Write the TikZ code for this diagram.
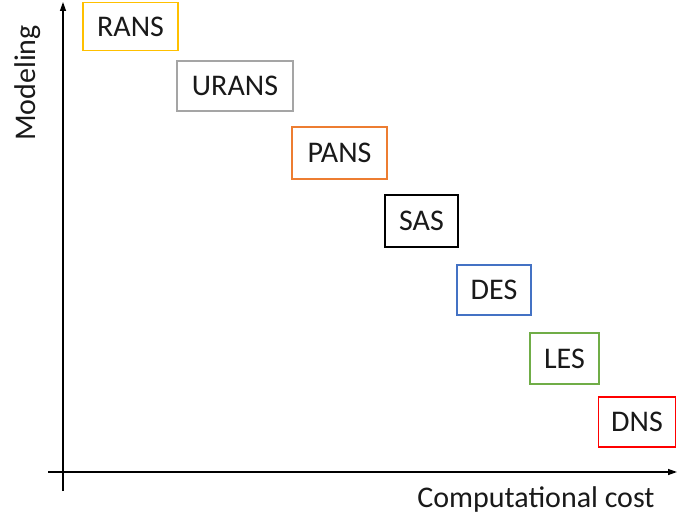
\documentclass[tikz,border=0pt]{standalone}
\usepackage{fontspec}
\setmainfont{Carlito}
\usetikzlibrary{arrows.meta}
\definecolor{cRANS}{HTML}{FFC000}
\definecolor{cURANS}{HTML}{A5A5A5}
\definecolor{cPANS}{HTML}{ED7D31}
\definecolor{cDES}{HTML}{4472C4}
\definecolor{cLES}{HTML}{70AD47}
\definecolor{cDNS}{HTML}{FF0000}
\begin{document}
\begin{tikzpicture}[x=1pt,y=-1pt,
  mbox/.style={draw, line width=1.8pt, inner sep=0pt, font=\fontsize{30}{34}\selectfont, text=black!90},
  axis/.style={line width=1.3pt, -{Triangle[length=9pt,width=6pt]}},
  lbl/.style={font=\fontsize{30}{34}\selectfont, text=black!90}]
\useasboundingbox (0,0) rectangle (677,516);
\node[mbox, draw=cRANS, minimum width=95pt, minimum height=48pt] (rans) at (130.5,26.5) {RANS};
\node[mbox, draw=cURANS, minimum width=116pt, minimum height=50pt] (urans) at (235,86) {URANS};
\node[mbox, draw=cPANS, minimum width=95pt, minimum height=52pt] (pans) at (339.5,153) {PANS};
\node[mbox, draw=black, minimum width=73pt, minimum height=52pt] (sas) at (421.5,221) {SAS};
\node[mbox, draw=cDES, minimum width=74pt, minimum height=50pt] (des) at (494,290) {DES};
\node[mbox, draw=cLES, minimum width=69pt, minimum height=51pt] (les) at (564.5,358.5) {LES};
\node[mbox, draw=cDNS, minimum width=77pt, minimum height=50pt] (dns) at (637,422) {DNS};
\coordinate (ybot) at (63,491);
\coordinate (ytop) at (63,2);
\coordinate (xleft) at (48,472);
\coordinate (xright) at (677,472);
\draw[axis] (ybot) -- (ytop);
\draw[axis] (xleft) -- (xright);
\node[lbl, anchor=base] (xl) at (536,507) {Computational cost};
\node[lbl, anchor=base, rotate=90] (yl) at (35,83) {Modeling};
\end{tikzpicture}
\end{document}
